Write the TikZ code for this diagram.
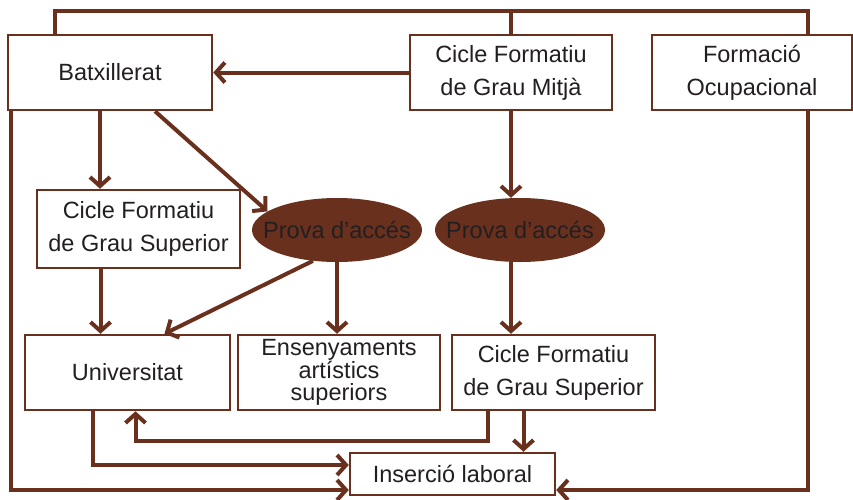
\documentclass[tikz,border=0pt]{standalone}
\usepackage{fontspec}
\setmainfont{Liberation Sans}
\usetikzlibrary{arrows.meta,shapes.geometric}
\definecolor{brown}{RGB}{105,48,30}
\definecolor{ink}{RGB}{35,31,32}
\newcommand{\provatext}{\makebox[0pt]{Prova d’accés}}
\begin{document}
\begin{tikzpicture}[x=1pt,y=-1pt,
  every node/.style={font=\fontsize{23.5}{33}\selectfont,text=ink,align=center,inner sep=0pt},
  box/.style={draw=brown,line width=2.5pt,fill=white,minimum height=75pt},
  prova/.style={ellipse,fill=brown,minimum width=170pt,minimum height=64pt},
  link/.style={draw=brown,line width=4pt},
  arr/.style={link,-{Straight Barb[length=9pt,width=20pt]}}]
\useasboundingbox (0,0) rectangle (853,499);
\node[box,minimum width=204pt] (batx) at (110,72.5) {Batxillerat};
\node[box,minimum width=202pt] (cfgm) at (511,72.5) {Cicle Formatiu\\de Grau Mitjà};
\node[box,minimum width=200pt] (fo) at (752,72.5) {Formació\\Ocupacional};
\node[box,minimum width=203pt,minimum height=78pt] (cfgsa) at (138.5,229) {Cicle Formatiu\\de Grau Superior};
\node[prova] (prova1) at (337,230) {\provatext};
\node[prova] (prova2) at (520,230) {\provatext};
\node[box,minimum width=205pt] (univ) at (127.5,372.5) {Universitat};
\node[box,minimum width=202pt,font=\fontsize{23.5}{22}\selectfont] (ens) at (339,372.5) {Ensenyaments\\artístics\\superiors};
\node[box,minimum width=203pt] (cfgsb) at (553.5,372.5) {Cicle Formatiu\\de Grau Superior};
\node[box,minimum width=205pt,minimum height=42pt] (ins) at (452.5,474) {Inserció laboral};
\draw[link] ([xshift=-55pt]batx.north) -- ++(0,-23) -| ([xshift=56pt]fo.north);
\draw[link] (cfgm.north) -- ++(0,-23);
\draw[arr] (cfgm.west) -- (batx.east);
\draw[arr] ([xshift=-10pt]batx.south) -- ([xshift=-10pt]batx.south |- cfgsa.north);
\draw[arr] ([xshift=45pt]batx.south) -- (prova1.165);
\draw[arr] ([xshift=-38pt]cfgsa.south) -- ([xshift=-38pt]cfgsa.south |- univ.north);
\draw[arr] (prova1.232) -- ([xshift=37pt]univ.north);
\draw[arr] (prova1.south) -- (prova1.south |- ens.north);
\draw[arr] (cfgm.south) -- (cfgm.south |- prova2.north);
\draw[arr] (cfgm.south |- prova2.south) -- (cfgm.south |- cfgsb.north);
\draw[arr] ([xshift=-66pt]cfgsb.south) -- ++(0,30) -| ([xshift=8pt]univ.south);
\draw[arr] ([xshift=-30pt]cfgsb.south) -- ([xshift=-30pt]cfgsb.south |- ins.north);
\draw[arr] ([xshift=-35pt]univ.south) |- ([yshift=9pt]ins.west);
\draw[arr] ([xshift=4pt]batx.south west) |- ([yshift=-16pt]ins.west);
\draw[arr] ([xshift=56pt]fo.south) |- ([yshift=-16pt]ins.east);
\end{tikzpicture}
\end{document}
